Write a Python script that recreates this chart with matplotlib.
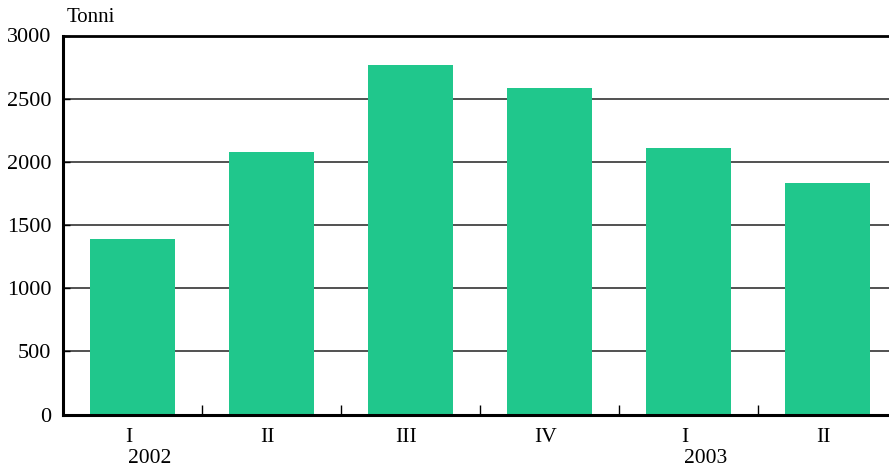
import numpy as np
import matplotlib.pyplot as plt

quarters = ['I', 'II', 'III', 'IV', 'I', 'II']
years = {0: '2002', 4: '2003'}
tonnes = [1388, 2077, 2765, 2583, 2108, 1831]

plt.rcParams['font.family'] = ['Liberation Serif', 'DejaVu Serif']

fig = plt.figure(figsize=(8.89, 4.66), dpi=100)
# axes run a bit past the right edge of the picture, as in the original
ax = fig.add_axes([63 / 889, 51.5 / 466, 834 / 889, 379 / 466])

x = np.arange(len(tonnes))
ax.bar(x, tonnes, width=0.61, color='#20C78C', zorder=2)

ax.set_xlim(-0.5, 5.5)
ax.set_ylim(0, 3000)
ax.set_yticks(np.arange(0, 3001, 500))
ax.yaxis.grid(True, color='#333333', linewidth=1.2, zorder=1)
ax.tick_params(axis='y', direction='in', length=5, width=1, labelsize=16, pad=8.5)

# x ticks sit on the category boundaries, labels placed as text
ax.set_xticks(np.arange(0.5, 5.5, 1))
ax.set_xticklabels([])
ax.tick_params(axis='x', direction='in', length=7, width=1)

for i, q in enumerate(quarters):
    ax.text(i - 0.03, -0.035, q, transform=ax.get_xaxis_transform(),
            ha='center', va='top', fontsize=15.5)
for i, yr in years.items():
    ax.text(i + 0.12, -0.09, yr, transform=ax.get_xaxis_transform(),
            ha='center', va='top', fontsize=15.5)

ax.spines['right'].set_visible(False)
ax.spines['left'].set_linewidth(2.2)
ax.spines['bottom'].set_linewidth(2.2)
ax.spines['top'].set_linewidth(2.0)

fig.text(67 / 889, 1 - 22 / 466, 'Tonni', fontsize=15, ha='left', va='baseline')

plt.savefig('out.png', dpi=100)
